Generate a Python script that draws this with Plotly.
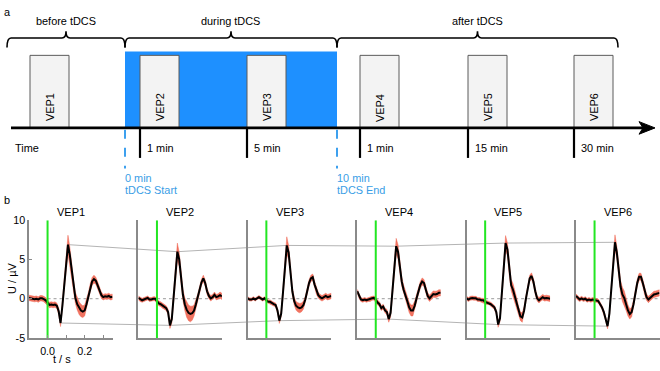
import plotly.graph_objects as go

# ---------------- data ----------------
t = [-0.10, -0.09, -0.08, -0.07, -0.06, -0.05, -0.04, -0.03, -0.02, -0.01,
     0.00, 0.01, 0.02, 0.03, 0.04, 0.05, 0.06, 0.07, 0.08, 0.09,
     0.10, 0.11, 0.12, 0.13, 0.14, 0.15, 0.16, 0.17, 0.18, 0.19,
     0.20, 0.21, 0.22, 0.23, 0.24, 0.25, 0.26, 0.27, 0.28, 0.29,
     0.30, 0.31, 0.32, 0.33, 0.34, 0.35]

vep1 = [0.1, 0.05, 0.0, -0.05, 0.0, -0.1, 0.05, 0.05, -0.05, -0.2,
        -0.5, -0.8, -0.75, -0.8, -0.75, -0.9, -1.6, -3.1, -0.9, 1.8,
        4.5, 6.9, 5.6, 3.5, 1.7, 0.1, -0.7, -1.2, -1.5, -1.65,
        -1.5, -0.7, 0.3, 1.4, 2.2, 2.5, 2.3, 1.7, 1.0, 0.45,
        0.2, 0.3, 0.25, 0.35, 0.2, 0.25]
vep2 = [0.1, -0.1, -0.2, -0.1, 0.0, 0.1, -0.1, -0.1, 0.0, 0.0,
        -0.3, -0.6, -0.7, -0.9, -1.1, -1.2, -1.7, -3.4, -2.6, 0.4,
        3.2, 6.0, 5.0, 2.6, 0.5, -0.7, -1.4, -1.8, -1.95, -1.85,
        -1.5, -0.7, 0.2, 1.15, 2.1, 2.6, 2.0, 0.95, 0.35, 0.05,
        0.2, 0.5, 0.2, 0.3, 0.45, 0.3]
vep3 = [0.05, -0.1, -0.1, 0.05, -0.1, 0.1, 0.2, 0.05, -0.1, 0.05,
        -0.2, -0.4, -0.4, -0.6, -0.7, -0.8, -1.5, -2.8, -1.9, 0.9,
        3.6, 6.8, 5.9, 3.6, 0.95, -0.3, -0.9, -1.1, -1.2, -1.1,
        -0.8, -0.1, 0.95, 2.0, 2.6, 2.75, 1.8, 0.95, 0.45, 0.2,
        0.05, 0.2, 0.35, 0.2, 0.3, 0.35]
vep4 = [0.95, 0.3, -0.1, -0.2, -0.1, -0.2, -0.1, -0.1, 0.05, 0.1,
        -0.1, -0.5, -0.7, -1.2, -1.0, -1.5, -1.7, -2.6, -1.8, 1.0,
        3.9, 6.7, 6.0, 4.0, 2.2, 1.15, 0.55, -0.3, -1.1, -1.5,
        -1.5, -0.9, 0.05, 0.95, 1.75, 2.2, 2.0, 1.15, 0.35, 0.05,
        0.35, 0.6, 0.55, 0.6, 0.75, 0.75]
vep5 = [0.05, -0.1, 0.05, 0.1, 0.05, 0.05, -0.1, -0.1, -0.2, -0.2,
        -0.4, -0.5, -0.5, -0.7, -0.9, -1.1, -1.7, -3.3, -2.5, 0.8,
        4.2, 7.1, 6.3, 3.6, 1.75, 1.15, 0.35, -0.5, -1.5, -2.25,
        -2.4, -1.5, 0.05, 1.55, 2.6, 2.9, 2.2, 0.95, 0.05, -0.2,
        0.05, 0.2, 0.05, 0.1, 0.05, 0.0]
vep6 = [0.35, 0.05, -0.1, 0.05, -0.1, 0.0, -0.2, -0.1, -0.2, -0.1,
        -0.2, -0.2, -0.3, -0.7, -1.1, -1.7, -2.55, -3.5, -1.9, 1.5,
        4.8, 7.2, 5.9, 3.6, 1.55, 0.55, 0.1, -0.7, -1.5, -1.95,
        -1.7, -0.7, 0.75, 2.0, 2.8, 2.8, 2.0, 0.95, 0.2, -0.1,
        0.1, 0.35, 0.55, 0.6, 0.7, 0.75]

sem1 = [0.35] * 10 + [0.35, 0.35, 0.35, 0.35, 0.35, 0.35, 0.4, 0.45, 0.6, 0.8,
                      1.0, 1.2, 1.0, 0.8, 0.7, 0.7, 0.75, 0.8, 0.8, 0.75,
                      0.7, 0.6, 0.5, 0.5, 0.5, 0.5, 0.45, 0.45, 0.4, 0.4,
                      0.35, 0.35, 0.35, 0.35, 0.35, 0.35]
sem2 = [0.25] * 10 + [0.3, 0.3, 0.3, 0.3, 0.3, 0.3, 0.35, 0.4, 0.5, 0.7,
                      0.9, 1.1, 0.9, 0.7, 0.7, 0.8, 0.95, 1.0, 1.0, 0.9,
                      0.7, 0.5, 0.4, 0.4, 0.4, 0.4, 0.4, 0.4, 0.35, 0.35,
                      0.35, 0.35, 0.35, 0.35, 0.4, 0.4]
sem3 = [0.2] * 10 + [0.25, 0.25, 0.25, 0.25, 0.25, 0.25, 0.3, 0.35, 0.4, 0.6,
                     0.8, 1.1, 0.9, 0.6, 0.5, 0.5, 0.55, 0.6, 0.6, 0.55,
                     0.5, 0.4, 0.4, 0.4, 0.4, 0.4, 0.4, 0.4, 0.35, 0.35,
                     0.35, 0.35, 0.35, 0.35, 0.35, 0.35]
sem4 = [0.25] * 10 + [0.3, 0.3, 0.3, 0.3, 0.3, 0.3, 0.35, 0.4, 0.5, 0.6,
                      0.8, 1.0, 0.9, 0.7, 0.6, 0.6, 0.6, 0.6, 0.65, 0.7,
                      0.7, 0.6, 0.5, 0.45, 0.45, 0.45, 0.45, 0.45, 0.4, 0.4,
                      0.4, 0.4, 0.4, 0.4, 0.4, 0.4]
sem5 = [0.25] * 10 + [0.25, 0.25, 0.25, 0.25, 0.25, 0.25, 0.3, 0.35, 0.4, 0.6,
                      0.8, 0.95, 0.8, 0.6, 0.7, 0.8, 0.8, 0.6, 0.55, 0.55,
                      0.6, 0.5, 0.4, 0.4, 0.4, 0.4, 0.4, 0.4, 0.35, 0.35,
                      0.35, 0.35, 0.35, 0.35, 0.35, 0.35]
sem6 = [0.25] * 10 + [0.25, 0.25, 0.25, 0.25, 0.25, 0.25, 0.3, 0.35, 0.4, 0.6,
                      0.8, 0.95, 0.8, 0.7, 0.8, 0.9, 0.9, 0.8, 0.7, 0.65,
                      0.6, 0.5, 0.45, 0.45, 0.45, 0.45, 0.45, 0.45, 0.4, 0.4,
                      0.4, 0.4, 0.4, 0.4, 0.4, 0.4]

vep_names = ["VEP1", "VEP2", "VEP3", "VEP4", "VEP5", "VEP6"]
means = [vep1, vep2, vep3, vep4, vep5, vep6]
sems = [sem1, sem2, sem3, sem4, sem5, sem6]

phase_labels = ["before tDCS", "during tDCS", "after tDCS"]
vep_time_labels = ["", "1 min", "5 min", "1 min", "15 min", "30 min"]
stim_labels = [["0 min", "tDCS Start"], ["10 min", "tDCS End"]]

x_ticks = [0.0, 0.1, 0.2, 0.3]
x_ticktext = ["0.0", "", "0.2", ""]
y_ticks = [-5, 0, 5, 10]
y_ticktext = ["-5", "0", "5", "10"]

# ---------------- layout helpers (pixel -> paper) ----------------
W, H = 660, 371
def fx(x):
    return x / W
def fy(y):
    return 1 - y / H

FONT = "Liberation Sans, Arial, sans-serif"
BLUE = "rgb(30,144,255)"
BLUE_TXT = "#3a9ee6"
GREEN = "#22e622"
BAND = "rgba(240,100,80,0.9)"
SPINE = "#8a8a8a"

fig = go.Figure()
shapes = []
annotations = []

def txt(x, y, s, size=10.9, color="black", xanchor="center", angle=0):
    annotations.append(dict(x=fx(x), y=fy(y), xref="paper", yref="paper", text=s,
                            showarrow=False, xanchor=xanchor, yanchor="middle",
                            textangle=angle, font=dict(size=size, color=color, family=FONT)))

# ---------------- panel a : schematic ----------------
box_left = [30, 140, 247, 360, 468, 574]
box_w = 39
box_top, axis_y = 51, 126
brace_spans = [(7, 125), (125, 337), (337, 618)]
stim_x = [125, 337]

shapes.append(dict(type="rect", xref="paper", yref="paper", x0=fx(stim_x[0]), x1=fx(stim_x[1]),
                   y0=fy(axis_y), y1=fy(47), fillcolor=BLUE, line=dict(width=0), layer="above"))
for i, L in enumerate(box_left):
    shapes.append(dict(type="rect", xref="paper", yref="paper", x0=fx(L), x1=fx(L + box_w),
                       y0=fy(axis_y), y1=fy(box_top), fillcolor="#f3f3f3",
                       line=dict(color="#5a5a5a", width=1), layer="above"))
    txt(L + box_w / 2, 105, vep_names[i], angle=-90)
    if vep_time_labels[i]:
        shapes.append(dict(type="line", xref="paper", yref="paper", x0=fx(L), x1=fx(L),
                           y0=fy(axis_y), y1=fy(157), line=dict(color="black", width=2.2), layer="above"))
        txt(L + 5, 147, vep_time_labels[i], xanchor="left")
shapes.append(dict(type="line", xref="paper", yref="paper", x0=fx(11), x1=fx(646),
                   y0=fy(axis_y), y1=fy(axis_y), line=dict(color="black", width=2.6), layer="above"))
shapes.append(dict(type="path", xref="paper", yref="paper",
                   path=f"M {fx(639)},{fy(119.5)} L {fx(655)},{fy(126)} L {fx(639)},{fy(132.5)} L {fx(643)},{fy(126)} Z",
                   fillcolor="black", line=dict(color="black", width=1), layer="above"))
txt(13, 147, "Time", xanchor="left")
for sx, (l1, l2) in zip(stim_x, stim_labels):
    shapes.append(dict(type="line", xref="paper", yref="paper", x0=fx(sx), x1=fx(sx),
                       y0=fy(axis_y + 2), y1=fy(168), line=dict(color="#3da0ee", width=2, dash="dash"),
                       layer="above"))
    txt(sx - 2, 178, l1, color=BLUE_TXT, xanchor="left")
    txt(sx - 2, 190, l2, color=BLUE_TXT, xanchor="left")
for (x0, x1), lab in zip(brace_spans, phase_labels):
    xm = (x0 + x1) / 2
    r = 4
    p = (f"M {fx(x0)},{fy(43)} Q {fx(x0)},{fy(33)} {fx(x0 + r)},{fy(33)} "
         f"L {fx(xm - r)},{fy(33)} Q {fx(xm)},{fy(33)} {fx(xm)},{fy(26)} "
         f"Q {fx(xm)},{fy(33)} {fx(xm + r)},{fy(33)} "
         f"L {fx(x1 - r)},{fy(33)} Q {fx(x1)},{fy(33)} {fx(x1)},{fy(43)}")
    shapes.append(dict(type="path", xref="paper", yref="paper", path=p,
                       line=dict(color="black", width=1.6), layer="above"))
    txt(xm, 15, lab)

txt(2, 6, "a", xanchor="left")
txt(2, 200, "b", xanchor="left")

# ---------------- panel b : VEP traces ----------------
x_range = [-0.1, 0.35]
y_range = [-5, 10]
ydom = [fy(343), fy(221.5)]
pw = 83.5
layout_axes = {}
peak_pts, trough_pts = [], []
for i in range(6):
    sfx = "" if i == 0 else str(i + 1)
    L = 29 + 109.4 * i
    xdom = [fx(L), fx(L + pw)]
    xa = dict(domain=xdom, range=x_range, anchor="y" + sfx, showline=True, linecolor=SPINE,
              linewidth=1.5, showgrid=False, zeroline=False, fixedrange=True)
    ya = dict(domain=ydom, range=y_range, anchor="x" + sfx, showline=True, linecolor=SPINE,
              linewidth=1.5, showgrid=False, zeroline=False, fixedrange=True)
    if i == 0:
        xa.update(ticks="inside", ticklen=3, tickcolor=SPINE, tickvals=x_ticks, ticktext=x_ticktext,
                  ticklabelstandoff=3,
                  tickfont=dict(size=10.7, family=FONT, color="black"))
        ya.update(ticks="inside", ticklen=3, tickcolor=SPINE, tickvals=y_ticks, ticktext=y_ticktext,
                  tickfont=dict(size=10.7, family=FONT, color="black"))
    else:
        xa.update(showticklabels=False, ticks="")
        ya.update(showticklabels=False, ticks="")
    layout_axes["xaxis" + sfx] = xa
    layout_axes["yaxis" + sfx] = ya

    m, s = means[i], sems[i]
    upper = [a + b for a, b in zip(m, s)]
    lower = [a - b for a, b in zip(m, s)]
    xr, yr = "x" + sfx, "y" + sfx
    fig.add_trace(go.Scatter(x=[0, x_range[1]], y=[0, 0], xaxis=xr, yaxis=yr, mode="lines",
                             line=dict(color="#9a9a9a", width=1, dash="dot"), hoverinfo="skip"))
    fig.add_trace(go.Scatter(x=t + t[::-1], y=upper + lower[::-1], xaxis=xr, yaxis=yr, mode="lines",
                             fill="toself", fillcolor=BAND, line=dict(width=0.5, color=BAND),
                             hoverinfo="skip"))
    fig.add_trace(go.Scatter(x=t, y=m, xaxis=xr, yaxis=yr, mode="lines",
                             line=dict(color="black", width=2), name=vep_names[i]))
    fig.add_trace(go.Scatter(x=[0, 0], y=y_range, xaxis=xr, yaxis=yr, mode="lines",
                             line=dict(color=GREEN, width=2), hoverinfo="skip"))
    jmax = max(range(len(m)), key=lambda k: m[k])
    jmin = min(range(len(m)), key=lambda k: m[k])
    def to_paper(tt, vv):
        px = xdom[0] + (tt - x_range[0]) / (x_range[1] - x_range[0]) * (xdom[1] - xdom[0])
        py = ydom[0] + (vv - y_range[0]) / (y_range[1] - y_range[0]) * (ydom[1] - ydom[0])
        return px, py
    peak_pts.append(to_paper(t[jmax], m[jmax]))
    trough_pts.append(to_paper(t[jmin], m[jmin]))
    txt(L + pw / 2, 213, vep_names[i], size=11)

for pts in (peak_pts, trough_pts):
    path = "M " + " L ".join(f"{a},{b}" for a, b in pts)
    shapes.append(dict(type="path", xref="paper", yref="paper", path=path,
                       line=dict(color="#b4b4b4", width=1), layer="below"))

txt(12, 282, "U / µV", size=11, angle=-90)
txt(62, 365, "t / s", size=11)

fig.update_layout(width=W, height=H, margin=dict(l=0, r=0, t=0, b=0), showlegend=False,
                  paper_bgcolor="white", plot_bgcolor="rgba(0,0,0,0)",
                  font=dict(family=FONT, color="black"),
                  shapes=shapes, annotations=annotations, **layout_axes)
fig.write_html("out.html", config={"displayModeBar": False},
               post_script="document.body.style.margin='0px';document.body.style.overflow='hidden';")
